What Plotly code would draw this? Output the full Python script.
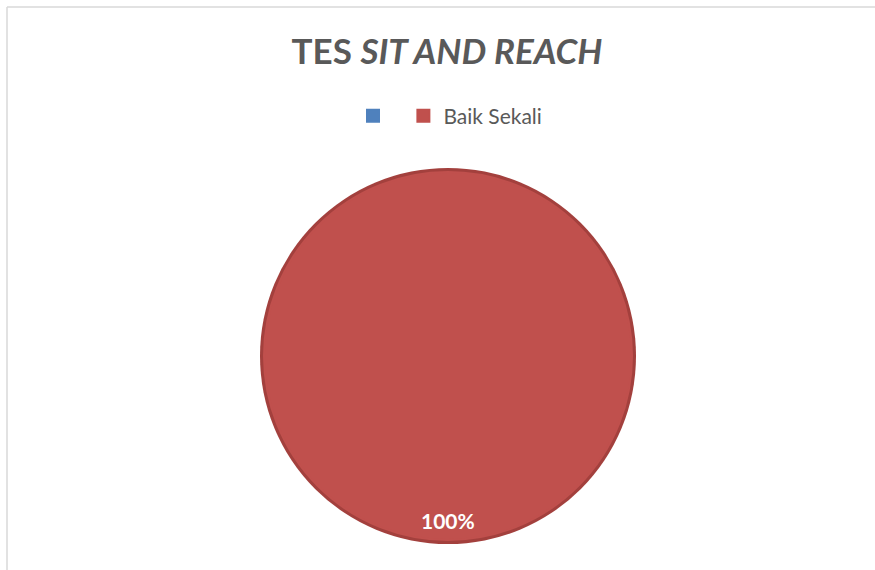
import plotly.graph_objects as go

categories = ["", "Baik Sekali"]
values = [0, 100]
colors = ["#4F81BD", "#C0504D"]
edge_color = "#A3403D"
title_main = "TES"
title_italic = "SIT AND REACH"

W, H = 875, 570
total = sum(values)
pct_labels = [f"{round(v / total * 100)}%" for v in values]

# pie placement (pixels)
cx, cy, r, edge = 448, 356, 188, 3

def dom(rad):
    return dict(x=[(cx - rad) / W, (cx + rad) / W],
                y=[(H - cy - rad) / H, (H - cy + rad) / H])

fig = go.Figure()
# darker outline ring underneath
fig.add_trace(go.Pie(
    labels=["outline"], values=[total], sort=False,
    marker=dict(colors=[edge_color], line=dict(width=0)),
    textinfo="none", hoverinfo="skip", showlegend=False,
    domain=dom(r),
))
fig.add_trace(go.Pie(
    labels=[c if c else " " for c in categories],
    values=values,
    sort=False,
    direction="clockwise",
    marker=dict(colors=colors, line=dict(color=colors, width=2)),
    textinfo="none",
    hoverinfo="label+percent",
    showlegend=True,
    domain=dom(r - edge - 1),
))

# data label for the non-zero slice
for lbl, v in zip(pct_labels, values):
    if v > 0:
        fig.add_annotation(
            x=448 / W, y=1 - 520 / H, xref="paper", yref="paper",
            yanchor="middle", xanchor="center",
            text=f"<b>{lbl}</b>", showarrow=False,
            font=dict(family="Lato, Open Sans, sans-serif", size=21, color="white"),
        )

fig.update_layout(
    width=W, height=H,
    margin=dict(l=0, r=0, t=0, b=0),
    paper_bgcolor="white",
    plot_bgcolor="white",
    title=dict(
        text=f"<b>{title_main} <i>{title_italic}</i></b>",
        x=447 / W, xanchor="center",
        y=1 - 52 / H, yanchor="middle",
        font=dict(family="Lato, Open Sans, sans-serif", size=35, color="#595959"),
    ),
    legend=dict(
        orientation="h",
        x=450 / W, xanchor="center",
        y=1 - 116 / H, yanchor="middle",
        font=dict(family="Lato, Open Sans, sans-serif", size=21, color="#595959"),
        bgcolor="rgba(0,0,0,0)",
        itemclick=False, itemdoubleclick=False,
    ),
    shapes=[
        dict(type="line", xref="paper", yref="paper",
             x0=7 / W, x1=1.01, y0=1 - 7 / H, y1=1 - 7 / H,
             line=dict(color="#D9D9D9", width=1.5)),
        dict(type="line", xref="paper", yref="paper",
             x0=7 / W, x1=7 / W, y0=1 - 7 / H, y1=-0.01,
             line=dict(color="#D9D9D9", width=1.5)),
    ],
)

fig.write_html("out.html")
